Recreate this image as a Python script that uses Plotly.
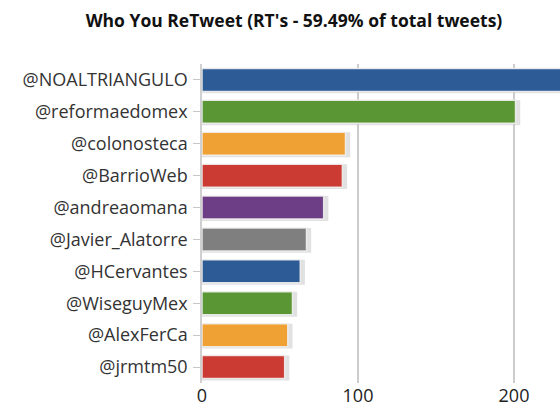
import plotly.graph_objects as go

categories = ["@NOALTRIANGULO", "@reformaedomex", "@colonosteca", "@BarrioWeb",
              "@andreaomana", "@Javier_Alatorre", "@HCervantes", "@WiseguyMex",
              "@AlexFerCa", "@jrmtm50"]
values = [240, 201, 92, 90, 78, 67, 63, 58, 55, 53]
colors = ["#2d5b96", "#5b9634", "#efa233", "#cc3b33", "#6d3d85", "#7f7f7f",
          "#2d5b96", "#5b9634", "#efa233", "#cc3b33"]
title = "Who You ReTweet (RT's - 59.49% of total tweets)"
tick_vals = [0, 100, 200]

fig = go.Figure()
# soft shadow behind each bar
fig.add_trace(go.Bar(
    y=categories, x=[v + 3 for v in values], orientation="h",
    marker=dict(color="rgba(195,195,195,0.5)", line=dict(width=0)),
    width=0.78, offset=-0.36, hoverinfo="skip", showlegend=False))
fig.add_trace(go.Bar(
    y=categories, x=values, orientation="h",
    marker=dict(color=colors, line=dict(color="rgba(240,240,240,0.9)", width=1.5)),
    width=0.72, showlegend=False))

fig.update_layout(
    width=560, height=408,
    margin=dict(l=202, r=0, t=64, b=25),
    paper_bgcolor="white", plot_bgcolor="white",
    barmode="overlay",
    title=dict(text=f"<b>{title}</b>", x=0.525, xanchor="center", y=0.95, yanchor="middle",
               font=dict(family="Open Sans", size=17.5, color="#111")),
    font=dict(family="Open Sans", color="#333"),
)
fig.update_xaxes(range=[0, 229.5], tickvals=tick_vals, showgrid=True,
                 gridcolor="#cccccc", gridwidth=1.5, zeroline=False,
                 showline=False, ticks="", tickfont=dict(size=18, color="#222"),
                 fixedrange=True)
fig.update_yaxes(autorange="reversed", showline=True, linecolor="#d0d0d0", linewidth=1.5,
                 ticks="outside", ticklen=7, tickcolor="#c8c8c8",
                 tickfont=dict(size=18, color="#333"), ticklabelstandoff=2)

fig.write_html("out.html")
